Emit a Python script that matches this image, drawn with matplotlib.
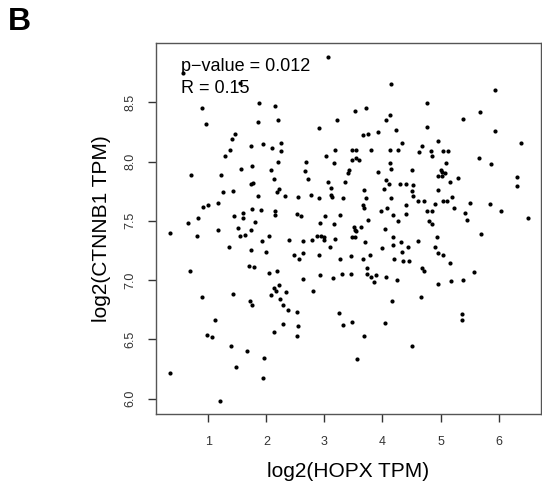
import matplotlib.pyplot as plt

plt.rcParams['font.family'] = ['Liberation Sans', 'DejaVu Sans']

# log2(HOPX TPM) and log2(CTNNB1 TPM)
hopx = [0.57, 1.55, 0.89, 0.96, 1.88, 2.15, 1.85, 2.20, 1.46, 1.41, 1.73, 1.95, 2.10, 1.37, 1.28, 2.20,
        3.07, 4.15, 3.52, 3.71, 3.22, 4.13, 4.06, 2.91, 4.24, 3.92, 3.67, 3.75, 2.26, 2.26, 3.19, 3.48,
        3.54, 3.81, 4.13, 4.26, 3.03, 3.55, 3.59, 3.48, 2.68, 3.16, 4.13,
        5.94, 4.76, 5.68, 5.39, 4.76, 5.93, 4.33, 4.68, 4.63, 4.83, 4.86, 4.95, 5.04, 5.13, 5.09, 5.66, 5.87,
        6.39, 6.31, 6.31, 5.85, 6.04, 6.50, 5.70,
        1.76, 1.56, 0.71, 1.22, 2.08, 2.13, 1.73, 1.77, 2.22, 2.18, 1.26, 1.43, 1.86, 1.17, 0.91, 1.00,
        1.75, 1.90, 2.15, 2.15, 1.59, 1.44, 1.59, 0.82, 1.80, 0.65, 1.51, 1.74, 1.16, 0.34, 0.80, 1.55,
        1.64, 2.05, 1.93, 1.35, 1.74, 1.99, 1.71, 1.79, 0.69, 2.05, 2.18, 2.22,
        4.15, 2.66, 3.42, 3.40, 2.71, 3.06, 3.11, 3.35, 3.93, 4.06, 4.11, 4.02, 4.30, 3.69, 2.33, 2.54,
        2.77, 2.90, 3.12, 3.13, 3.32, 3.71, 4.15, 3.66, 3.69, 4.08, 3.97, 2.53, 2.60, 3.01, 3.27, 4.19,
        3.75, 4.27, 2.93, 3.17, 3.51, 3.52, 3.54, 3.63, 4.04, 2.88, 2.94, 2.99, 2.99, 3.19, 3.47, 3.53,
        2.39, 2.63, 2.78, 3.70, 4.19, 4.19, 4.32, 3.10, 4.00, 2.47, 2.56, 2.64, 2.90, 3.27, 3.46, 3.66,
        3.78, 3.73, 4.20, 2.92, 3.14, 3.30, 3.46, 3.73, 3.80, 3.89, 4.06, 4.25, 2.64, 3.85,
        4.51, 5.01, 5.02, 5.07, 4.96, 5.02, 5.30, 5.16, 4.40, 4.52, 4.51, 4.52, 4.95, 4.62, 4.72, 5.05,
        5.11, 5.20, 4.91, 5.50, 4.40, 5.23, 4.77, 4.85, 4.40, 5.42, 5.46, 4.80, 4.86, 4.94, 4.62, 4.44,
        4.91, 4.34, 4.96, 5.05, 4.35, 4.46, 5.17, 4.68, 4.72, 5.57, 4.96, 5.18, 5.39,
        2.13, 2.16, 2.08, 2.23, 0.89, 1.43, 1.72, 1.75, 1.12, 0.97, 1.07, 2.14, 1.39, 1.67, 1.96, 1.48,
        0.34, 1.94, 1.21,
        2.34, 2.81, 2.29, 2.37, 2.53, 4.17, 3.26, 3.47, 3.32, 4.04, 2.29, 2.55, 2.53, 3.68, 3.56,
        4.66, 5.37, 5.37, 4.51]
ctnnb1 = [8.75, 8.66, 8.45, 8.32, 8.49, 8.47, 8.33, 8.35, 8.23, 8.19, 8.13, 8.15, 8.11, 8.10, 8.05, 8.00,
          8.88, 8.65, 8.43, 8.45, 8.35, 8.39, 8.35, 8.28, 8.27, 8.25, 8.22, 8.23, 8.16, 8.09, 8.10, 8.10,
          8.10, 8.10, 8.10, 8.10, 8.05, 8.03, 8.01, 8.01, 8.00, 7.99, 7.99,
          8.60, 8.49, 8.42, 8.36, 8.29, 8.26, 8.16, 8.13, 8.08, 8.09, 8.05, 8.17, 8.09, 8.09, 7.99, 8.03, 7.98,
          8.16, 7.87, 7.79, 7.64, 7.58, 7.52, 7.39,
          7.96, 7.94, 7.89, 7.89, 7.93, 7.85, 7.81, 7.82, 7.77, 7.74, 7.74, 7.75, 7.71, 7.65, 7.62, 7.63,
          7.60, 7.59, 7.58, 7.55, 7.57, 7.54, 7.52, 7.52, 7.49, 7.48, 7.44, 7.42, 7.42, 7.40, 7.37, 7.37,
          7.38, 7.37, 7.33, 7.28, 7.25, 7.24, 7.12, 7.11, 7.08, 7.06, 7.08, 6.96,
          7.94, 7.92, 7.93, 7.90, 7.85, 7.83, 7.78, 7.83, 7.91, 7.84, 7.81, 7.77, 7.81, 7.76, 7.71, 7.70,
          7.72, 7.69, 7.72, 7.70, 7.69, 7.69, 7.69, 7.63, 7.61, 7.61, 7.58, 7.56, 7.54, 7.54, 7.55, 7.55,
          7.51, 7.50, 7.48, 7.47, 7.45, 7.42, 7.41, 7.45, 7.43, 7.37, 7.37, 7.36, 7.34, 7.35, 7.36, 7.36,
          7.34, 7.33, 7.34, 7.32, 7.36, 7.30, 7.32, 7.28, 7.27, 7.21, 7.18, 7.23, 7.21, 7.18, 7.20, 7.18,
          7.21, 7.10, 7.18, 7.04, 7.02, 7.05, 7.05, 7.05, 7.03, 7.04, 7.03, 7.00, 7.01, 6.98,
          7.93, 7.93, 7.91, 7.90, 7.88, 7.88, 7.86, 7.83, 7.81, 7.80, 7.75, 7.71, 7.76, 7.67, 7.67, 7.67,
          7.67, 7.70, 7.64, 7.65, 7.63, 7.61, 7.58, 7.58, 7.56, 7.57, 7.51, 7.50, 7.47, 7.36, 7.33, 7.28,
          7.28, 7.24, 7.23, 7.21, 7.16, 7.16, 7.14, 7.10, 7.08, 7.07, 6.97, 6.99, 7.00,
          6.93, 6.91, 6.87, 6.84, 6.86, 6.88, 6.82, 6.79, 6.66, 6.54, 6.52, 6.56, 6.44, 6.40, 6.34, 6.27,
          6.22, 6.17, 5.98,
          6.90, 6.91, 6.79, 6.75, 6.73, 6.82, 6.72, 6.65, 6.62, 6.64, 6.63, 6.61, 6.53, 6.53, 6.33,
          6.86, 6.71, 6.66, 6.44]

x_ticks = [1, 2, 3, 4, 5, 6]
y_ticks = [6.0, 6.5, 7.0, 7.5, 8.0, 8.5]

fig = plt.figure(figsize=(5.42, 4.93), dpi=100)
ax = fig.add_axes([0.2878, 0.1602, 0.7103, 0.7526])

ax.scatter(hopx, ctnnb1, s=9, c='black', linewidths=0)

ax.set_xlim(0.10, 6.73)
ax.set_ylim(5.87, 9.00)
ax.set_xticks(x_ticks)
ax.set_xticklabels([str(t) for t in x_ticks])
ax.set_yticks(y_ticks)
ax.set_yticklabels(['%.1f' % t for t in y_ticks], rotation=90, va='center')
ax.tick_params(length=6, width=1, colors='#333333', labelsize=9, pad=10)
ax.tick_params(axis='y', pad=8)
for sp in ax.spines.values():
    sp.set_color('#555555')
    sp.set_linewidth(1)

ax.set_xlabel('log2(HOPX TPM)', fontsize=15, labelpad=10)
ax.set_ylabel('log2(CTNNB1 TPM)', fontsize=15, labelpad=10)

ax.text(0.53, 8.80, 'p\u2212value = 0.012', fontsize=13, va='center')
ax.text(0.53, 8.62, 'R = 0.15', fontsize=13, va='center')

fig.text(0.014, 0.985, 'B', fontsize=23, fontweight='bold', va='top')

fig.savefig('out.png', dpi=100)
